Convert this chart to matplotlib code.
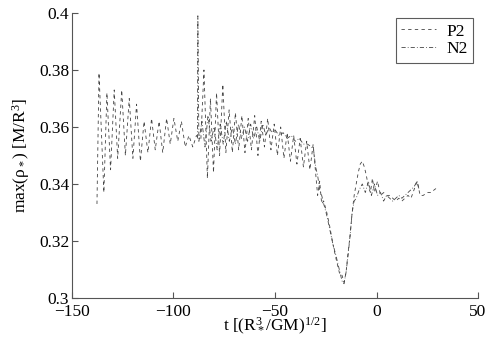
import matplotlib
matplotlib.use("Agg")
import matplotlib.pyplot as plt
from matplotlib.ticker import FuncFormatter

plt.rcParams['font.family'] = ['Liberation Serif', 'DejaVu Serif']
plt.rcParams['mathtext.fontset'] = 'custom'
plt.rcParams['mathtext.rm'] = 'Liberation Serif'
plt.rcParams['mathtext.it'] = 'Liberation Serif:italic'

# P2 series (dashed)
p2_t = [-137.7, -136.7, -134.3, -132.8, -131.0, -129.2, -127.5, -125.5, -123.7, -121.8,
        -120.0, -118.2, -116.3, -114.5, -112.6, -110.8, -109.0, -107.1, -105.3, -103.4,
        -101.6, -99.8, -97.9, -96.1, -94.2, -92.4, -90.5, -88.7,
        -86.5, -85.0, -83.3, -81.8, -80.3, -78.8, -77.3, -75.7, -74.2, -72.6,
        -71.0, -69.5, -67.9, -66.3, -64.8, -63.2, -61.6, -60.0, -58.4, -56.8,
        -55.2, -53.6, -52.0, -50.4, -48.8, -47.2, -45.6, -44.0, -42.4, -40.8,
        -39.2, -37.6, -36.0, -34.4, -32.8, -31.2, -30.0, -29.0, -28.0, -27.0,
        -26.0, -24.5, -23.0, -21.5, -20.0, -19.0, -18.0, -17.0, -16.0, -15.0,
        -14.0, -13.0, -12.0, -11.0, -10.0, -9.0, -8.0, -7.0, -6.0, -5.0,
        -4.0, -3.0, -2.0, -1.0, 0.5, 2.0, 3.5, 5.0, 6.5, 8.0,
        9.5, 11.0, 12.5, 14.0, 15.5, 17.0, 18.5, 20.0, 21.5, 23.0,
        25.0, 27.0, 28.5, 30.5]
p2_v = [0.333, 0.379, 0.337, 0.372, 0.345, 0.373, 0.349, 0.373, 0.350, 0.370,
        0.349, 0.368, 0.348, 0.362, 0.351, 0.363, 0.352, 0.362, 0.351, 0.363,
        0.354, 0.363, 0.355, 0.362, 0.353, 0.357, 0.353, 0.357,
        0.356, 0.380, 0.342, 0.370, 0.344, 0.372, 0.350, 0.375, 0.351, 0.366,
        0.351, 0.365, 0.352, 0.364, 0.351, 0.363, 0.352, 0.364, 0.350, 0.362,
        0.353, 0.363, 0.352, 0.361, 0.350, 0.360, 0.349, 0.358, 0.348, 0.357,
        0.347, 0.356, 0.346, 0.355, 0.345, 0.354, 0.344, 0.336, 0.341, 0.333,
        0.334, 0.330, 0.325, 0.319, 0.314, 0.311, 0.308, 0.308, 0.3055, 0.309,
        0.316, 0.322, 0.330, 0.336, 0.340, 0.344, 0.347, 0.348, 0.346, 0.343,
        0.339, 0.337, 0.342, 0.337, 0.341, 0.336, 0.337, 0.336, 0.336, 0.335,
        0.334, 0.335, 0.334, 0.335, 0.336, 0.335, 0.338, 0.341, 0.336, 0.336,
        0.337, 0.337, 0.338, 0.339]

# N2 series (dash-dot)
n2_t = [-88.2, -88.0, -87.5, -86.0, -84.5, -83.0, -81.5, -80.0, -78.5, -77.0,
        -75.5, -74.0, -72.5, -71.0, -69.5, -68.0, -66.5, -65.0, -63.5, -62.0,
        -60.5, -59.0, -57.5, -56.0, -54.5, -53.0, -51.5, -50.0, -48.0, -46.0,
        -44.0, -42.0, -40.0, -38.0, -36.0, -34.0, -32.0, -31.0, -30.0, -29.0,
        -28.0, -27.0, -26.0, -24.5, -23.0, -21.5, -20.0, -19.0, -18.0, -17.0,
        -16.0, -15.0, -14.0, -13.0, -12.0, -11.0, -10.0, -8.5, -7.0, -5.5,
        -4.0, -2.5, -1.0, 0.5, 2.0, 3.5, 5.0, 6.5, 8.0, 9.5,
        11.0, 12.5, 14.0, 15.5, 17.0, 18.5, 20.0, 21.0]
n2_v = [0.356, 0.399, 0.355, 0.362, 0.353, 0.364, 0.355, 0.360, 0.352, 0.361,
        0.354, 0.362, 0.355, 0.360, 0.354, 0.361, 0.356, 0.360, 0.355, 0.361,
        0.356, 0.360, 0.355, 0.361, 0.357, 0.360, 0.358, 0.359, 0.357, 0.358,
        0.356, 0.357, 0.355, 0.356, 0.354, 0.354, 0.353, 0.352, 0.346, 0.343,
        0.338, 0.336, 0.333, 0.329, 0.324, 0.319, 0.315, 0.312, 0.309, 0.306,
        0.305, 0.309, 0.315, 0.322, 0.330, 0.334, 0.335, 0.338, 0.340, 0.337,
        0.341, 0.336, 0.340, 0.336, 0.337, 0.334, 0.336, 0.335, 0.334, 0.335,
        0.336, 0.335, 0.336, 0.337, 0.338, 0.339, 0.341, 0.338]

x_ticks = [-150, -100, -50, 0, 50]
y_ticks = [0.30, 0.32, 0.34, 0.36, 0.38, 0.40]

fig = plt.figure(figsize=(4.91, 3.46), dpi=100)
ax = fig.add_axes([72/491, 48/346, 406/491, 285/346])

lc = '#444444'
ax.plot(p2_t, p2_v, linestyle=(0, (4, 4)), color=lc, lw=0.6, label='P2')
ax.plot(n2_t, n2_v, linestyle=(0, (5, 2.5, 1, 2.5)), color=lc, lw=0.6, label='N2')

ax.set_xlim(-150, 50)
ax.set_ylim(0.3, 0.4)
ax.set_xticks(x_ticks)
ax.set_yticks(y_ticks)
ax.xaxis.set_major_formatter(FuncFormatter(lambda v, p: ('%g' % v).replace('-', '\u2212')))
ax.yaxis.set_major_formatter(FuncFormatter(lambda v, p: '%g' % round(v, 2)))
ax.tick_params(axis='x', pad=4)
ax.tick_params(direction='in', length=4, width=0.8, color='#555555', labelsize=12.5)
ax.tick_params(axis='y', pad=2)
for s in ['top', 'right']:
    ax.spines[s].set_visible(False)
for s in ['left', 'bottom']:
    ax.spines[s].set_color('#555555')
    ax.spines[s].set_linewidth(0.8)

ax.set_xlabel(r't [($\mathrm{R}_*^3$/GM)$^{1/2}$]', fontsize=12.5, labelpad=-3)
ax.set_ylabel(r'max(ρ$_*$) [M/R$^3$]', fontsize=12.5, labelpad=5)

leg = ax.legend(loc='upper right', fontsize=12.5, frameon=True, fancybox=False,
                edgecolor='#333333', handlelength=2.0, borderpad=0.3,
                labelspacing=0.1, handletextpad=0.6, borderaxespad=0.3)
leg.get_frame().set_linewidth(0.8)

fig.savefig('out.png', dpi=100)
